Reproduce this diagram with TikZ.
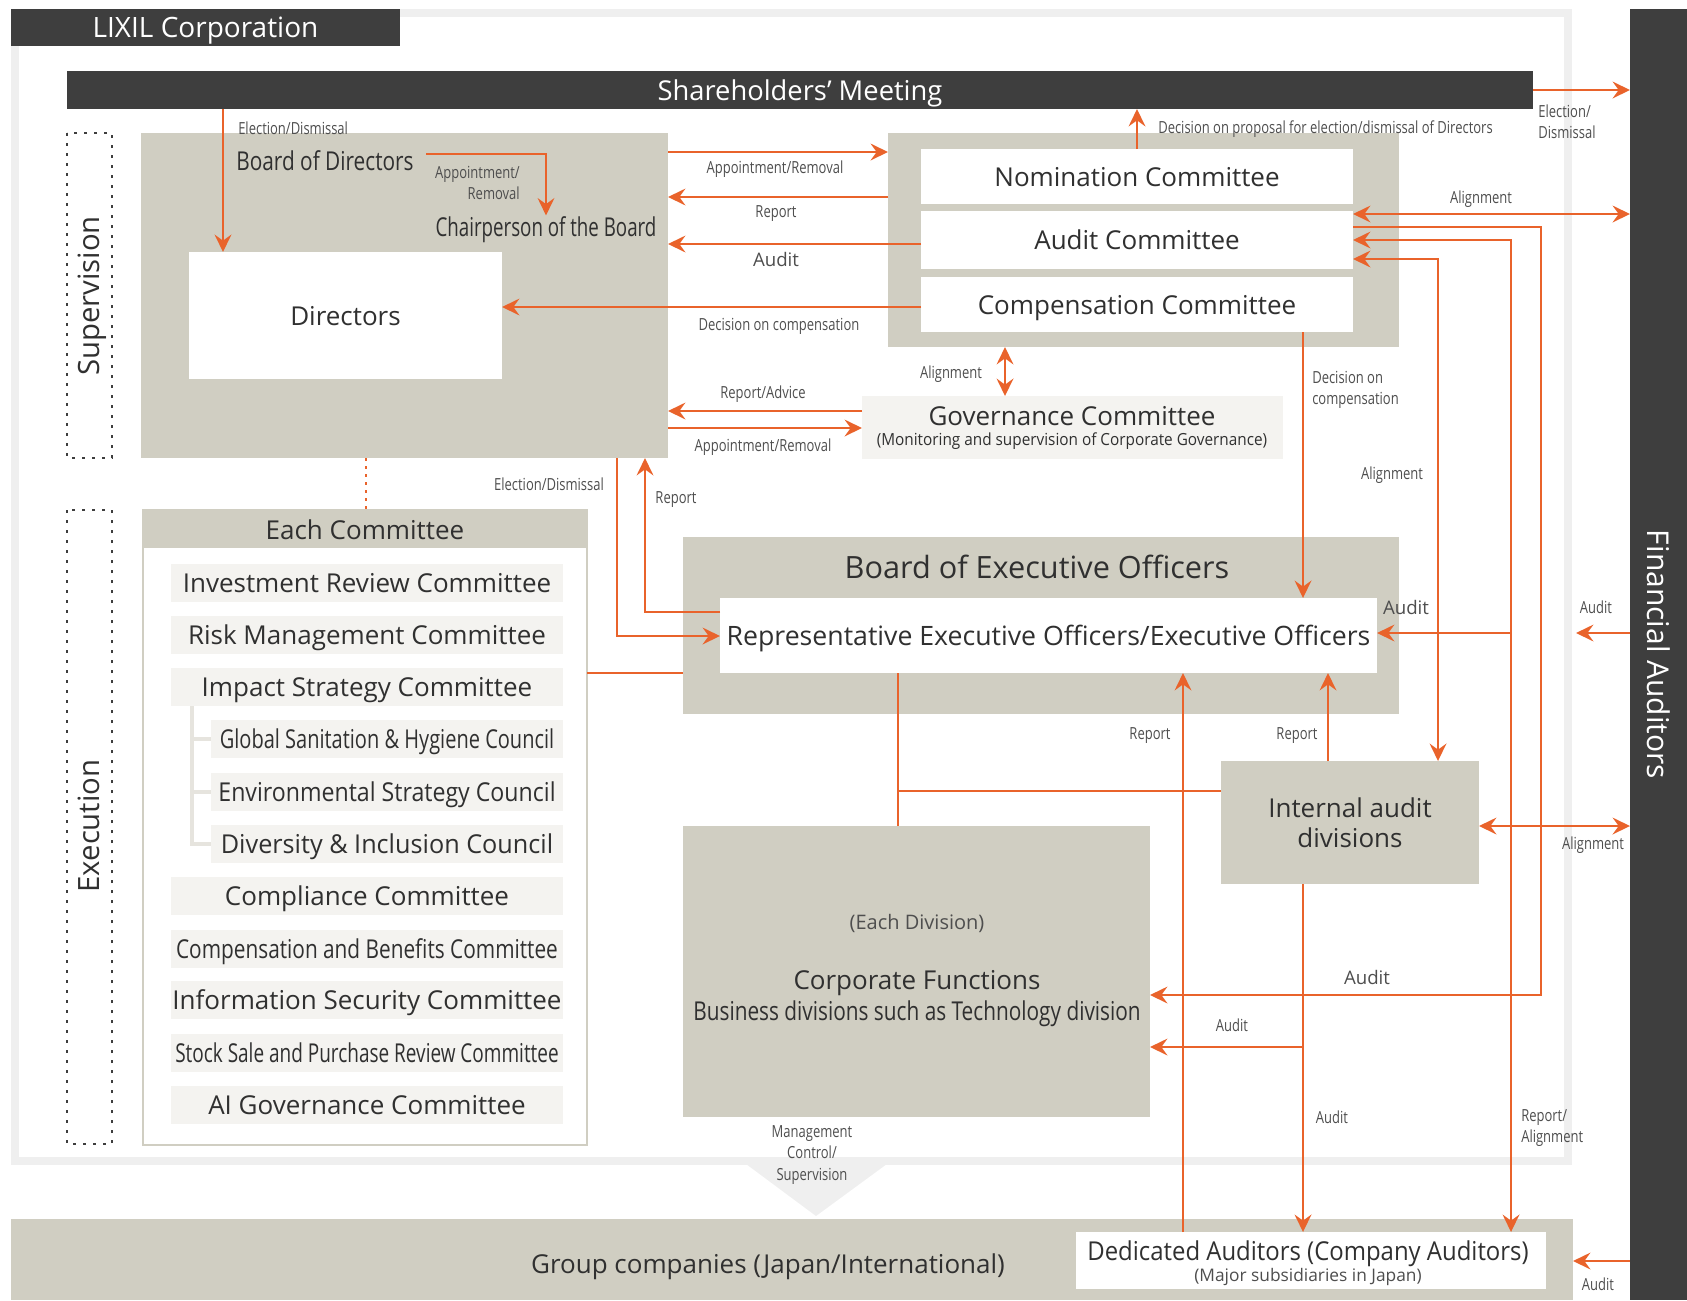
\documentclass[tikz,border=0pt]{standalone}
\usepackage{fontspec}
\setmainfont{Open Sans}
\usetikzlibrary{arrows.meta}

\definecolor{lxdark}{RGB}{62,62,62}
\definecolor{lxgray}{RGB}{208,206,194}
\definecolor{lxpale}{RGB}{244,243,240}
\definecolor{lxframe}{RGB}{239,239,239}
\definecolor{lxtree}{RGB}{230,228,222}
\definecolor{lxorange}{RGB}{233,99,43}
\definecolor{lxtext}{RGB}{48,48,48}
\definecolor{lxlabel}{RGB}{78,78,78}

% horizontally squeezed text
\newcommand{\nrw}[2][0.78]{\scalebox{#1}[1]{#2}}
% box given by its corners (x1,y1) and (x2,y2)
\newcommand{\blk}[7][]{%
  \node[inner sep=0pt, outer sep=0pt, align=center,
        minimum width={(#5-#3)*0.75pt}, minimum height={(#6-#4)*0.75pt}, #1]
    (#2) at ({(#3+#5)/2},{(#4+#6)/2}) {#7};}

\tikzset{
  bigtxt/.style={font=\fontsize{19.5}{22}\selectfont, text=lxtext, text depth=0pt},
  headtxt/.style={font=\fontsize{22}{24}\selectfont, text=lxtext, text depth=0pt},
  lbl/.style={font=\fontsize{12.5}{16}\selectfont, text=lxlabel, inner sep=0.75pt, align=center},
  lblbig/.style={lbl, font=\fontsize{14}{16}\selectfont},
  darkbar/.style={fill=lxdark, text=white, text depth=0pt, font=\fontsize{20.5}{24}\selectfont},
  graybox/.style={fill=lxgray},
  whitebox/.style={fill=white, bigtxt},
  palebar/.style={fill=lxpale, bigtxt},
  flow/.style={draw=lxorange, line width=2pt, -{Stealth[length=13pt, width=12.5pt, inset=4.5pt]}},
  twoway/.style={flow, {Stealth[length=13pt, width=12.5pt, inset=4.5pt]}-{Stealth[length=13pt, width=12.5pt, inset=4.5pt]}},
  plain/.style={draw=lxorange, line width=2pt},
  dotbox/.style={draw=lxdark, line width=2pt, dash pattern=on 2pt off 5.5pt},
  treeline/.style={draw=lxtree, line width=2.5pt},
}

\begin{document}
\begin{tikzpicture}[x=0.75pt,y=0.75pt,yscale=-1,xscale=1]
\useasboundingbox (0,0) rectangle (1687,1300);

% light frame of the company, with the pointer down to the group
\draw[lxframe, line width=6pt] (15,13) rectangle (1568,1161);
\fill[lxframe] (742,1161) -- (891,1161) -- (816,1216) -- cycle;

% dark bars
\blk[darkbar, font=\fontsize{21}{24}\selectfont]{corp}{11}{9}{400}{46}{LIXIL Corporation}
\blk[darkbar]{share}{67}{71}{1533}{109}{Shareholders’ Meeting}
\blk[darkbar]{fa}{1630}{9}{1687}{1300}{}
\node[headtxt, font=\fontsize{22.5}{24}\selectfont, text=white, rotate=-90] (faname) at (fa) {Financial Auditors};

% ---- supervision ----
\draw[dotbox] (67,133) rectangle (112,458);
\node[headtxt, rotate=90] (supv) at (89,296) {Supervision};

\blk[graybox]{bod}{141}{133}{668}{458}{}
\blk[whitebox]{dirs}{189}{252}{502}{379}{Directors}
\node[bigtxt, inner sep=1pt] (bodname) at (325,161) {\nrw[0.8]{Board of Directors}};
\node[bigtxt, inner sep=1pt] (chair) at (546,227) {\nrw[0.72]{Chairperson of the Board}};

\blk[graybox]{cmbox}{888}{133}{1399}{347}{}
\blk[whitebox]{nomc}{921}{149}{1353}{204}{Nomination Committee}
\blk[whitebox]{audc}{921}{211}{1353}{269}{Audit Committee}
\blk[whitebox]{cmpc}{921}{277}{1353}{332}{Compensation Committee}

\blk[fill=lxpale]{govc}{862}{396}{1283}{459}{}
\node[bigtxt] (govname) at (1072,416) {Governance Committee};
\node[lbl, text=lxtext] (govnote) at (1072,441) {\nrw[0.92]{(Monitoring and supervision of Corporate Governance)}};

% ---- execution ----
\draw[dotbox] (67,510) rectangle (112,1144);
\node[headtxt, rotate=90] (exec) at (89,826) {Execution};

\blk[draw=lxgray, line width=2.2pt, fill=white]{ecbox}{143}{510}{587}{1145}{}
\blk[graybox, bigtxt]{echead}{144}{511}{586}{548}{Each Committee}
\foreach \y/\xl/\sx/\name [count=\i] in {
    583/171/1/Investment Review Committee,
    635/171/1/Risk Management Committee,
    687/171/1/Impact Strategy Committee,
    739/211/0.77/Global Sanitation \& Hygiene Council,
    792/211/0.89/Environmental Strategy Council,
    844/211/0.97/Diversity \& Inclusion Council,
    896/171/1/Compliance Committee,
    949/171/0.8/Compensation and Benefits Committee,
    1000/171/1/Information Security Committee,
    1053/171/0.73/Stock Sale and Purchase Review Committee,
    1105/171/1/AI Governance Committee}
  \blk[palebar]{cm\i}{\xl}{(\y-19)}{563}{(\y+19)}{\nrw[\sx]{\name}};
\coordinate (xTree) at (192,0);
\draw[treeline] (cm3.south -| xTree) |- (cm6.west);
\draw[treeline] (xTree |- cm4.west) -- (cm4.west);
\draw[treeline] (xTree |- cm5.west) -- (cm5.west);

\blk[graybox]{boeo}{683}{537}{1399}{714}{}
\node[headtxt, font=\fontsize{23}{26}\selectfont] (boeoname) at (1037,567) {Board of Executive Officers};
\blk[whitebox, font=\fontsize{20}{24}\selectfont]{repx}{720}{598}{1377}{673}{Representative Executive Officers/Executive Officers}

\blk[graybox, bigtxt]{iad}{1221}{761}{1479}{884}{Internal audit\\divisions}

\blk[graybox]{cf}{683}{826}{1150}{1117}{}
\node[font=\fontsize{15}{18}\selectfont, text=lxlabel] (cfnote) at (917,923) {(Each Division)};
\node[bigtxt] (cfname) at (917,980) {Corporate Functions};
\node[bigtxt] (cfsub) at (917,1011) {\nrw[0.8]{Business divisions such as Technology division}};

% ---- group companies ----
\blk[graybox]{grp}{11}{1219}{1573}{1300}{}
\node[bigtxt] (grpname) at (768,1264) {Group companies (Japan/International)};
\blk[fill=white]{dedi}{1076}{1232}{1546}{1289}{}
\node[bigtxt] (dediname) at (1308,1251) {\nrw[0.92]{Dedicated Auditors (Company Auditors)}};
\node[lbl, font=\fontsize{13}{16}\selectfont] (dedinote) at (1308,1277) {(Major subsidiaries in Japan)};

% ---- connector levels ----
\coordinate (xElect) at (223,0);
\coordinate (apStart) at (426,154);
\coordinate (yAppt) at (0,152);
\coordinate (yRep) at (0,197);
\coordinate (yAud) at (0,244);
\coordinate (yDec) at (0,307);
\coordinate (xProp) at (1137,0);
\coordinate (yAlFA) at (0,214);
\coordinate (yCFa) at (0,227);
\coordinate (yDedi) at (0,240);
\coordinate (yIAal) at (0,259);
\coordinate (xCFa) at (1541,0);
\coordinate (xDedi) at (1511,0);
\coordinate (xIAal) at (1438,0);
\coordinate (yCFb) at (0,995);
\coordinate (xGov) at (1005,0);
\coordinate (yRepAdv) at (0,411);
\coordinate (yApptG) at (0,428);
\coordinate (xDecX) at (1303,0);
\coordinate (yAudX) at (0,633);
\coordinate (faTipX) at (1576,633);
\coordinate (yIAfa) at (0,826);
\coordinate (yFD) at (0,1261);
\coordinate (yIAcf) at (0,1047);
\coordinate (xRepD) at (1183,0);
\coordinate (xRepI) at (1328,0);
\coordinate (xLink) at (898,0);
\coordinate (yLink) at (0,791);
\coordinate (yEC) at (0,673);
\coordinate (xDot) at (366,0);
\coordinate (xElX) at (617,0);
\coordinate (yElX) at (0,636);
\coordinate (xRepB) at (645,0);
\coordinate (yRepB) at (0,612);

% ---- connectors ----
\draw[flow] (share.south -| xElect) -- (dirs.north -| xElect);
\draw[flow] (apStart) -| (chair.north);
\draw[flow] (bod.east |- yAppt) -- (cmbox.west |- yAppt);
\draw[flow] (cmbox.west |- yRep) -- (bod.east |- yRep);
\draw[flow] (audc.west |- yAud) -- (bod.east |- yAud);
\draw[flow] (cmpc.west |- yDec) -- (dirs.east |- yDec);
\draw[flow] (nomc.north -| xProp) -- (share.south -| xProp);
\draw[flow] (share.east) -- (fa.west |- share.east);
\draw[twoway] (audc.east |- yAlFA) -- (fa.west |- yAlFA);
\draw[flow] (audc.east |- yCFa) -| (xCFa |- yCFb) -- (cf.east |- yCFb);
\draw[twoway] (audc.east |- yDedi) -| (dedi.north -| xDedi);
\draw[flow] (xDedi |- yAudX) -- (repx.east |- yAudX);
\draw[flow] (fa.west |- yAudX) -- (faTipX);
\draw[twoway] (audc.east |- yIAal) -| (iad.north -| xIAal);
\draw[twoway] (cmbox.south -| xGov) -- (govc.north -| xGov);
\draw[flow] (govc.west |- yRepAdv) -- (bod.east |- yRepAdv);
\draw[flow] (bod.east |- yApptG) -- (govc.west |- yApptG);
\draw[flow] (cmpc.south -| xDecX) -- (repx.north -| xDecX);
\draw[twoway] (iad.east |- yIAfa) -- (fa.west |- yIAfa);
\draw[flow] (fa.west |- yFD) -- (grp.east |- yFD);
\draw[flow] (iad.south -| xDecX) -- (dedi.north -| xDecX);
\draw[flow] (xDecX |- yIAcf) -- (cf.east |- yIAcf);
\draw[flow] (dedi.north -| xRepD) -- (repx.south -| xRepD);
\draw[flow] (iad.north -| xRepI) -- (repx.south -| xRepI);
\draw[plain] (repx.south -| xLink) -- (cf.north -| xLink);
\draw[plain] (xLink |- yLink) -- (iad.west |- yLink);
\draw[plain] (ecbox.east |- yEC) -- (boeo.west |- yEC);
\draw[lxorange, line width=2pt, dash pattern=on 2pt off 4pt] (bod.south -| xDot) -- (ecbox.north -| xDot);
\draw[flow] (bod.south -| xElX) |- (repx.west |- yElX);
\draw[flow] (repx.west |- yRepB) -| (bod.south -| xRepB);

% ---- connector labels ----
\node[lbl, anchor=west] (lElect) at (237,128) {\nrw{Election/Dismissal}};
\node[lbl, align=right, anchor=east] (lApptC) at (521,183) {\nrw{Appointment/}\\\nrw{Removal}};
\node[lbl] (lApptN) at (775,169) {\nrw{Appointment/Removal}};
\node[lbl] (lRepN) at (776,214) {\nrw{Report}};
\node[lblbig] (lAudB) at (776,259) {Audit};
\node[lbl] (lDecD) at (779,326) {\nrw{Decision on compensation}};
\node[lbl, anchor=west] (lProp) at (1157,129) {\nrw{Decision on proposal for election/dismissal of Directors}};
\node[lbl, anchor=west, align=left] (lElectFA) at (1537,122) {\nrw{Election/}\\\nrw{Dismissal}};
\node[lbl] (lAlFA) at (1481,199) {\nrw{Alignment}};
\node[lbl] (lAlGov) at (951,374) {\nrw{Alignment}};
\node[lbl] (lRepAdv) at (763,394) {\nrw{Report/Advice}};
\node[lbl] (lApptG) at (763,447) {\nrw{Appointment/Removal}};
\node[lbl, anchor=west, align=left] (lDecX) at (1311,390) {\nrw{Decision on}\\\nrw{compensation}};
\node[lbl] (lElectX) at (549,484) {\nrw{Election/Dismissal}};
\node[lbl] (lRepX) at (676,500) {\nrw{Report}};
\node[lbl] (lAlIA) at (1392,475) {\nrw{Alignment}};
\node[lblbig] (lAudX) at (1406,607) {Audit};
\node[lbl] (lAudFX) at (1596,607) {\nrw{Audit}};
\node[lbl] (lRepD) at (1150,736) {\nrw{Report}};
\node[lbl] (lRepI) at (1297,736) {\nrw{Report}};
\node[lbl] (lAlIF) at (1593,845) {\nrw{Alignment}};
\node[lblbig] (lAudC) at (1367,977) {Audit};
\node[lbl] (lAudIC) at (1232,1025) {\nrw{Audit}};
\node[lbl] (lAudID) at (1332,1117) {\nrw{Audit}};
\node[lbl, anchor=west, align=left] (lRepAl) at (1520,1128) {\nrw{Report/}\\\nrw{Alignment}};
\node[lbl] (lAudFD) at (1598,1284) {\nrw{Audit}};
\node[lbl] (lMgmt) at (812,1155) {\nrw{Management}\\\nrw{Control/}\\\nrw{Supervision}};
\end{tikzpicture}
\end{document}
